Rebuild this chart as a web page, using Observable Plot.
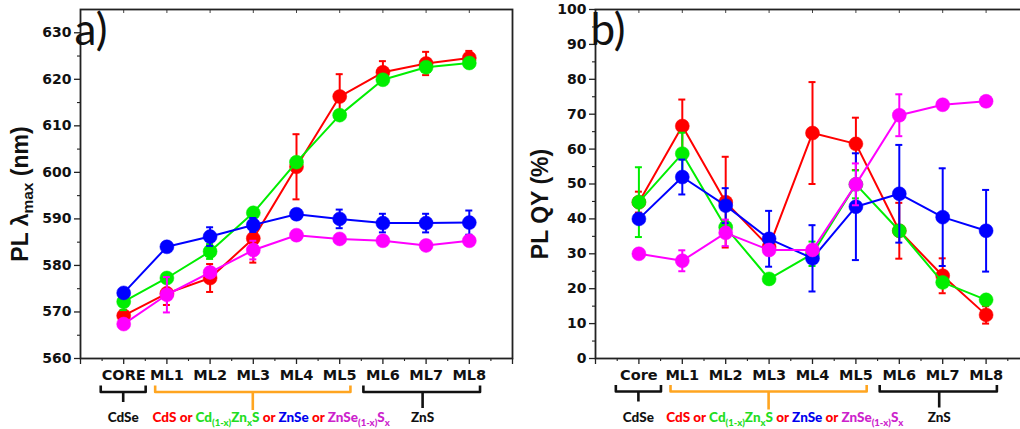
<!DOCTYPE html>
<html><head><meta charset="utf-8">
<script src="https://cdn.jsdelivr.net/npm/d3@7"></script>
<script src="https://cdn.jsdelivr.net/npm/@observablehq/plot@0.6"></script>
<style>
body{margin:0;background:#fff;overflow:hidden}
#wrap{display:flex;width:1040px;height:429px;overflow:hidden}
#wrap svg{overflow:visible;flex:none}
</style></head><body><div id="wrap"></div>
<script>
// ---------- data ----------
const stagesA = ["CORE","ML1","ML2","ML3","ML4","ML5","ML6","ML7","ML8"];
const stagesB = ["Core","ML1","ML2","ML3","ML4","ML5","ML6","ML7","ML8"];
const seriesNames = ["CdS","Cd(1-x)ZnxS","ZnSe","ZnSe(1-x)Sx"];
const seriesColors = ["#ff0000","#00ee00","#0000ff","#ff00ff"];

// panel a: PL lambda max (nm)
const lamCdS      = [569.2,574.0,577.3,585.8,601.2,616.3,621.5,623.4,624.6];
const lamCdSErr   = [1.2,2.5,3.0,5.2,7.0,4.8,2.4,2.5,1.5];
const lamCdZnS    = [572.2,577.3,583.0,591.3,602.2,612.3,619.9,622.6,623.5];
const lamCdZnSErr = [1.8,1.0,1.6,1.0,1.0,1.0,1.0,1.0,1.0];
const lamZnSe     = [574.1,584.0,586.2,588.7,591.0,590.0,589.1,589.1,589.2];
const lamZnSeErr  = [0.8,1.0,2.0,1.5,1.0,2.0,2.0,2.0,2.6];
const lamZnSeS    = [567.4,573.7,578.5,583.3,586.5,585.7,585.3,584.3,585.3];
const lamZnSeSErr = [0.5,3.8,1.0,2.0,0.5,0.5,0.5,0.5,0.5];

// panel b: PL QY (%)
const qyCdS      = [44.8,66.6,44.8,32.0,64.6,61.5,36.6,23.7,12.5];
const qyCdSErr   = [3.0,7.6,13.0,2.0,14.6,7.5,8.0,5.0,2.5];
const qyCdZnS    = [44.8,58.7,37.6,22.8,30.0,49.9,36.6,21.8,16.8];
const qyCdZnSErr = [10.0,6.0,2.0,0.5,3.5,4.0,1.0,1.0,1.0];
const qyZnSe     = [40.0,52.0,43.8,34.3,28.7,43.5,47.2,40.5,36.6];
const qyZnSeErr  = [1.0,5.0,5.0,8.0,9.5,15.3,14.0,14.0,11.7];
const qyZnSeS    = [30.0,28.0,36.0,31.1,31.1,49.9,69.7,72.7,73.7];
const qyZnSeSErr = [0.5,3.0,3.8,1.5,1.0,6.0,6.0,0.5,0.5];

// ---------- drawing ----------
const H = 429, MT = 9, MB = 71;
const FH = H - MT - MB;
const tickFont = "'DejaVu Sans', Verdana, sans-serif";
const labelFont = "'Liberation Sans', Arial, sans-serif";
const annFont = "Lato, 'Open Sans', sans-serif";

function makePanel({labels, values, errs, yDomain, yMajor, yMinor, width, marginLeft, marginRight}) {
  const marks = [
    Plot.axisY(yMajor, {tickSize: 6, tickPadding: 3, fontSize: 14, fontWeight: "bold", label: null, stroke: "#222", strokeWidth: 1.3}),
    Plot.axisY(yMinor, {tickSize: 3, tickFormat: () => "", label: null, stroke: "#222", strokeWidth: 1.1}),
    Plot.axisX(d3.range(0, 11), {tickSize: 6, tickPadding: 5, fontSize: 14.5, fontWeight: "bold", label: null,
      tickFormat: i => labels[i - 1] ?? "", stroke: "#222", strokeWidth: 1.3}),
    Plot.axisX(d3.range(0.5, 10, 1), {tickSize: 3, tickFormat: () => "", label: null, stroke: "#222", strokeWidth: 1.1}),
    Plot.ruleX(d3.range(0, 11), {insetBottom: FH - 4, stroke: "#444", strokeWidth: 1}),
    Plot.frame({stroke: "#222", strokeWidth: 1.8})
  ];
  values.forEach((vals, k) => {
    const rows = vals.map((v, i) => ({i: i + 1, v, lo: v - errs[k][i], hi: v + errs[k][i]}));
    const c = seriesColors[k];
    marks.push(
      Plot.ruleX(rows, {x: "i", y1: "lo", y2: "hi", stroke: c, strokeWidth: 2}),
      Plot.ruleY(rows, {x1: "i", x2: "i", y: "hi", insetLeft: -3.5, insetRight: -3.5, stroke: c, strokeWidth: 2}),
      Plot.ruleY(rows, {x1: "i", x2: "i", y: "lo", insetLeft: -3.5, insetRight: -3.5, stroke: c, strokeWidth: 2}),
      Plot.line(rows, {x: "i", y: "v", stroke: c, strokeWidth: 2}),
      Plot.dot(rows, {x: "i", y: "v", r: 7, fill: c, stroke: c, strokeWidth: 0.5})
    );
  });
  return Plot.plot({
    width, height: H, marginTop: MT, marginBottom: MB, marginLeft, marginRight,
    style: {fontFamily: tickFont, fontSize: "14px", fontWeight: "bold", color: "#111", background: "transparent", overflow: "visible"},
    x: {domain: [0, 10], label: null},
    y: {domain: yDomain, label: null},
    marks
  });
}

function annotate(chart, {panelLetter, yLabelParts, yLabelX, yLabelY, letterX, bracketTopY, textStartPad}) {
  const sx = chart.scale("x");
  const fx = d3.scaleLinear(sx.domain, sx.range);
  const svg = d3.select(chart);
  const g = svg.append("g");
  // panel letter
  g.append("text").attr("x", letterX).attr("y", 45).attr("font-family", annFont).attr("font-weight", "normal")
    .attr("font-size", 44).attr("fill", "#111").text(panelLetter);
  // y label
  const yl = g.append("text").attr("transform", `translate(${yLabelX},${yLabelY}) rotate(-90)`)
    .attr("text-anchor", "middle").attr("font-family", labelFont).attr("font-weight", "bold")
    .attr("font-size", 23).attr("fill", "#111");
  yLabelParts.forEach(p => {
    const t = yl.append("tspan").text(p.t);
    if (p.sub) t.attr("font-size", 15.5).attr("dy", 5);
    if (p.after) t.attr("dy", -5);
  });
  // brackets
  const groups = [
    {from: 1, to: 1, padL: 0.52, padR: 0.52, stem: 1, color: "#111", stemLen: 10},
    {from: 2, to: 6, padL: 0.26, padR: 0.26, stem: 4, color: "#ffa520", stemLen: 18},
    {from: 7, to: 9, padL: 0.44, padR: 0.26, stem: 8, color: "#111", stemLen: 16}
  ];
  const yTop = bracketTopY, yBar = bracketTopY + 6.5;
  groups.forEach(gr => {
    const x1 = fx(gr.from - gr.padL), x2 = fx(gr.to + gr.padR), xs = fx(gr.stem) + (gr.stem === 8 ? -3 : 0);
    g.append("path").attr("d", `M${x1},${yTop}V${yBar}H${x2}V${yTop}M${xs},${yBar}v${gr.stemLen}`)
      .attr("fill", "none").attr("stroke", gr.color).attr("stroke-width", 2.6).attr("stroke-linejoin", "round");
  });
  // group labels
  const lab = (x, anchor) => g.append("text").attr("x", x).attr("y", 422).attr("text-anchor", anchor)
    .attr("font-family", annFont).attr("font-weight", "900").attr("font-size", 13.5);
  lab(fx(1), "middle").attr("fill", "#111").text("CdSe");
  lab(fx(8) - 3, "middle").attr("fill", "#111").text("ZnS");
  const t = lab(fx(2 - textStartPad), "start");
  const parts = [
    ["CdS or ", "#ff0000"], ["Cd", "#22dd22"], ["(1-x)", "#22dd22", 1], ["Zn", "#22dd22", -1], ["x", "#22dd22", 1], ["S", "#22dd22", -1],
    [" or ", "#ff0000"], ["ZnSe", "#0000ee"], [" or ", "#ff0000"], ["ZnSe", "#cc22cc"], ["(1-x)", "#cc22cc", 1], ["S", "#cc22cc", -1], ["x", "#cc22cc", 1]
  ];
  parts.forEach(([s, c, sub]) => {
    const ts = t.append("tspan").attr("fill", c).text(s);
    if (sub === 1) ts.attr("dy", 4).attr("font-size", 9.5);
    if (sub === -1) ts.attr("dy", -4);
  });
}

const wrap = document.getElementById("wrap");

const chartA = makePanel({
  labels: stagesA,
  values: [lamCdS, lamCdZnS, lamZnSe, lamZnSeS],
  errs: [lamCdSErr, lamCdZnSErr, lamZnSeErr, lamZnSeSErr],
  yDomain: [560, 635], yMajor: d3.range(560, 631, 10), yMinor: d3.range(565, 635, 10),
  width: 513, marginLeft: 80, marginRight: 1
});
wrap.appendChild(chartA);
annotate(chartA, {
  panelLetter: "a)", letterX: 91,
  yLabelParts: [{t: "PL λ"}, {t: "max", sub: true}, {t: " (nm)", after: true}],
  yLabelX: 28, yLabelY: 194, bracketTopY: 385.5, textStartPad: 0.32
});

const chartB = makePanel({
  labels: stagesB,
  values: [qyCdS, qyCdZnS, qyZnSe, qyZnSeS],
  errs: [qyCdSErr, qyCdZnSErr, qyZnSeErr, qyZnSeSErr],
  yDomain: [0, 100], yMajor: d3.range(0, 101, 10), yMinor: d3.range(5, 100, 10),
  width: 518, marginLeft: 82, marginRight: 2
});
wrap.appendChild(chartB);
annotate(chartB, {
  panelLetter: "b)", letterX: 95,
  yLabelParts: [{t: "PL QY (%)"}],
  yLabelX: 35, yLabelY: 204, bracketTopY: 385, textStartPad: 0.36
});
</script>
</body></html>
